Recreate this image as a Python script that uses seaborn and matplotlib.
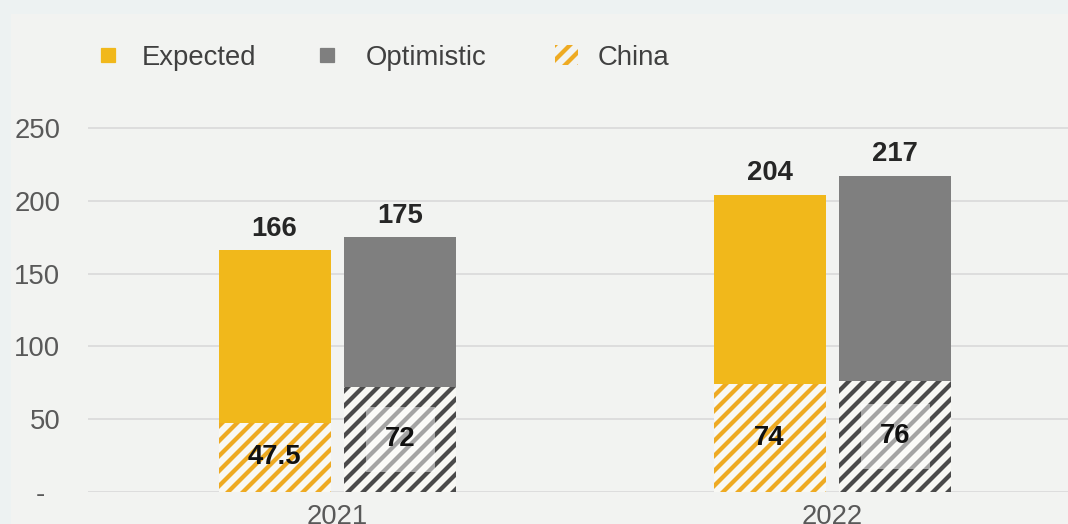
import matplotlib
matplotlib.use("Agg")
import matplotlib.pyplot as plt
import seaborn as sns
import pandas as pd
from matplotlib.patches import Rectangle, Patch
from matplotlib.lines import Line2D

# ---- data ----
years = ["2021", "2022"]
scenarios = ["Expected", "Optimistic"]
expected_total = [166, 204]
optimistic_total = [175, 217]
expected_china = [47.5, 74]
optimistic_china = [72, 76]
y_ticks = [0, 50, 100, 150, 200, 250]
y_tick_labels = ["-  ", "50", "100", "150", "200", "250"]
legend_labels = ["Expected", "Optimistic", "China"]

# ---- style ----
YELLOW = "#f1b81b"
GRAY = "#7f7f7f"
YELLOW_HATCH = "#eeaa22"
GRAY_HATCH = "#4a4a4a"
HATCH_BG = "#f8f8f4"
FIG_BG = "#edf2f2"
PANEL_BG = "#f2f3f1"
TICK_COLOR = "#595959"
TEXT_DARK = "#262626"

df = pd.DataFrame({
    "year": years * 2,
    "scenario": [scenarios[0]] * 2 + [scenarios[1]] * 2,
    "total": expected_total + optimistic_total,
    "china": expected_china + optimistic_china,
})

sns.set_theme(style="white")
plt.rcParams["font.family"] = ["Liberation Sans", "DejaVu Sans"]
plt.rcParams["hatch.linewidth"] = 3.4

DPI = 90
W, H = 1068, 524
FS = 22
fig = plt.figure(figsize=(W / DPI, H / DPI), dpi=DPI, facecolor=FIG_BG)
fig.patches.append(Rectangle((11 / W, 0), 1, 1 - 14 / H, transform=fig.transFigure,
                             facecolor=PANEL_BG, edgecolor="none", zorder=-10))

y0_px, ytop_px = 491.7, 121.0
ax = fig.add_axes([88 / W, (H - y0_px) / H, 1 - 88 / W, (y0_px - ytop_px) / H])
ax.set_facecolor("none")

common = dict(data=df, x="year", hue="scenario", hue_order=scenarios, saturation=1,
              width=0.508, gap=0.109, linewidth=0, legend=False, ax=ax, errorbar=None)
sns.barplot(y="total", palette=[YELLOW, GRAY], **common)
sns.barplot(y="china", palette=[HATCH_BG, HATCH_BG], **common)

hatch_colors = [YELLOW_HATCH, GRAY_HATCH]
for cont, hc in zip(ax.containers[2:4], hatch_colors):
    for p in cont:
        p.set_hatch("//")
        p.set_edgecolor(hc)
        p.set_linewidth(0)

# totals
for cont in ax.containers[0:2]:
    ax.bar_label(cont, fmt="{:g}", padding=7, fontsize=FS, fontweight="bold", color=TEXT_DARK)

# china values
ax.bar_label(ax.containers[2], fmt="{:g}", label_type="center", fontsize=FS,
             fontweight="bold", color="#111111")
ax.bar_label(ax.containers[3], fmt="{:g}", label_type="center", fontsize=FS,
             fontweight="bold", color="#111111",
             bbox=dict(boxstyle="square,pad=0.7", facecolor="white", alpha=0.5, edgecolor="none"))

ax.set_xlim(-0.504, 1.476)
ax.set_ylim(0, 255)
ax.set_yticks(y_ticks)
ax.set_yticklabels(y_tick_labels)
ax.set_xlabel("")
ax.set_ylabel("")
ax.tick_params(axis="y", labelsize=FS, colors=TICK_COLOR, length=0, pad=22)
ax.tick_params(axis="x", labelsize=FS, colors=TICK_COLOR, length=0, pad=10)
ax.yaxis.grid(True, color="#d9d9d9", linewidth=1.3)
ax.xaxis.grid(False)
ax.set_axisbelow(True)
sns.despine(ax=ax, left=True, bottom=True)

# legends
leg_y = 1 - 58 / H
handles = [
    Line2D([], [], linestyle="none", marker="s", markersize=10.5, color=YELLOW),
    Line2D([], [], linestyle="none", marker="s", markersize=10.5, color=GRAY),
    Patch(facecolor=PANEL_BG, edgecolor=YELLOW_HATCH, hatch="//", linewidth=0),
]
specs = [(93.75, 1.0, 0.75), (313.25, 1.0, 0.92), (555, 0.85, 0.71)]
for h, lab, (x0, hl, tp) in zip(handles, legend_labels, specs):
    fig.legend([h], [lab], loc="center left", bbox_to_anchor=(x0 / W, leg_y),
               frameon=False, borderpad=0, borderaxespad=0, handlelength=hl,
               handleheight=0.75, handletextpad=tp, fontsize=FS, labelcolor="#404040")

fig.savefig("out.png", dpi=DPI, facecolor=FIG_BG)
